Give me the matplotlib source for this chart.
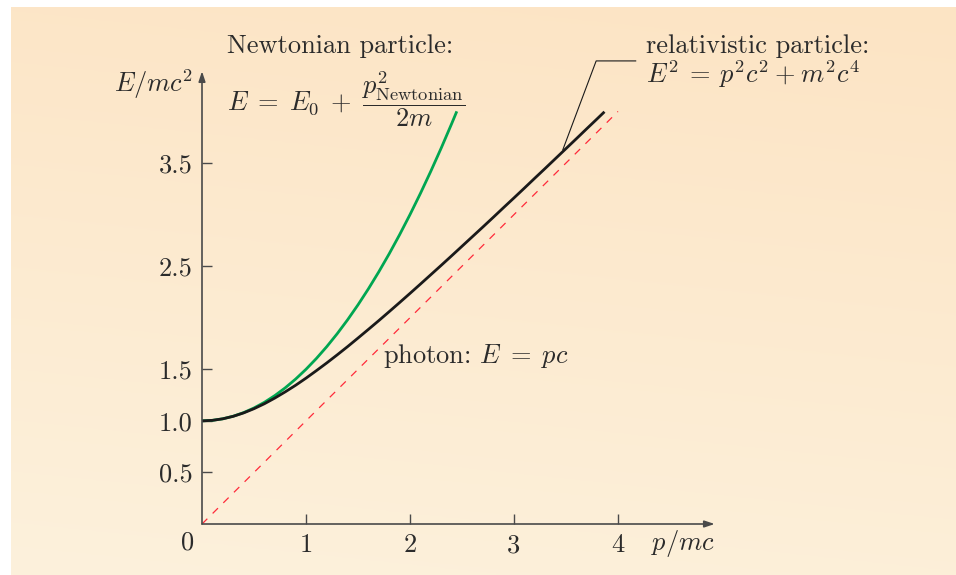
import matplotlib
matplotlib.use('Agg')
import matplotlib.pyplot as plt
import numpy as np

plt.rcParams['font.family'] = 'cmr10'
plt.rcParams['mathtext.fontset'] = 'cm'
plt.rcParams['axes.formatter.use_mathtext'] = True

# momentum p/mc and energy E/mc^2
p_rel = [0.0, 0.1, 0.2, 0.3, 0.4, 0.5, 0.6, 0.7, 0.8, 0.9, 1.0,
         1.1, 1.2, 1.3, 1.4, 1.5, 1.6, 1.7, 1.8, 1.9, 2.0,
         2.1, 2.2, 2.3, 2.4, 2.5, 2.6, 2.7, 2.8, 2.9, 3.0,
         3.1, 3.2, 3.3, 3.4, 3.5, 3.6, 3.7, 3.8, 3.87]
E_rel = [1.000, 1.005, 1.020, 1.044, 1.077, 1.118, 1.166, 1.221, 1.281, 1.345, 1.414,
         1.487, 1.562, 1.640, 1.720, 1.803, 1.887, 1.972, 2.059, 2.147, 2.236,
         2.326, 2.417, 2.508, 2.600, 2.693, 2.786, 2.879, 2.973, 3.068, 3.162,
         3.257, 3.353, 3.448, 3.544, 3.640, 3.736, 3.833, 3.929, 3.997]

p_newt = [0.0, 0.1, 0.2, 0.3, 0.4, 0.5, 0.6, 0.7, 0.8, 0.9, 1.0,
          1.1, 1.2, 1.3, 1.4, 1.5, 1.6, 1.7, 1.8, 1.9, 2.0,
          2.1, 2.2, 2.3, 2.4, 2.45]
E_newt = [1.000, 1.005, 1.020, 1.045, 1.080, 1.125, 1.180, 1.245, 1.320, 1.405, 1.500,
          1.605, 1.720, 1.845, 1.980, 2.125, 2.280, 2.445, 2.620, 2.805, 3.000,
          3.205, 3.420, 3.645, 3.880, 4.001]

p_photon = [0.0, 4.0]
E_photon = [0.0, 4.0]

xticks = [1, 2, 3, 4]
yticks = [0.5, 1.0, 1.5, 2.5, 3.5]

W, H = 956, 575
fig = plt.figure(figsize=(W / 100, H / 100), dpi=100)

# gradient panel behind everything
bg = fig.add_axes([11 / W, 0, 1 - 11 / W, 568 / H], zorder=-1)
ny, nx = 200, 300
yy, xx = np.mgrid[0:1:ny * 1j, 0:1:nx * 1j]
t = 0.85 * yy + 0.15 * xx
c0 = np.array([253, 241, 220]) / 255
c1 = np.array([252, 228, 196]) / 255
img = c0 + (c1 - c0) * t[..., None]
bg.imshow(img, origin='lower', aspect='auto', extent=[0, 1, 0, 1])
bg.axis('off')

ax = fig.add_axes([202 / W, 51 / H, 520 / W, 453.8 / H])
ax.set_facecolor('none')
ax.set_xlim(0, 5.0)
ax.set_ylim(0, 4.4)
for s in ax.spines.values():
    s.set_visible(False)

axis_col = '#4a4a4a'
txt_col = '#2b2b2b'

ax.annotate('', xy=(4.93, 0), xytext=(0, 0),
            arrowprops=dict(arrowstyle='-|>,head_length=0.6,head_width=0.2',
                            color=axis_col, lw=1.2, shrinkA=0, shrinkB=0))
ax.annotate('', xy=(0, 4.39), xytext=(0, 0),
            arrowprops=dict(arrowstyle='-|>,head_length=0.6,head_width=0.2',
                            color=axis_col, lw=1.2, shrinkA=0, shrinkB=0))

fs = 19
ax.set_xticks(xticks, [str(v) for v in xticks])
ax.set_yticks(yticks, ['%.1f' % v for v in yticks])
ax.tick_params(direction='in', length=7, width=1.0, color=axis_col,
               labelsize=fs, labelcolor=txt_col, pad=7)

ax.plot(p_photon, E_photon, color='#ff2a3a', lw=0.9, dashes=(6, 6))
ax.plot(p_newt, E_newt, color='#00a651', lw=2.0, solid_capstyle='butt')
ax.plot(p_rel, E_rel, color='#1a1a1a', lw=2.0, solid_capstyle='butt')

# leader line for the relativistic label
ax.plot([3.47, 3.79, 4.17], [3.63, 4.49, 4.49], color='#1a1a1a', lw=0.8, clip_on=False)

ax.text(-0.14, -0.18, '0', fontsize=fs, color=txt_col, ha='center', va='center')
ax.text(-0.08, 4.26, r'$E/mc^2$', fontsize=fs, color=txt_col, ha='right', va='center')
ax.text(4.32, -0.19, r'$p/mc$', fontsize=fs, color=txt_col, ha='left', va='center')

ax.text(0.24, 4.63, 'Newtonian particle:', fontsize=fs, color=txt_col,
        ha='left', va='center', clip_on=False)
ax.text(0.24, 4.12, r'$E\;=\;E_0\;+\;\dfrac{p^2_{\mathrm{Newtonian}}}{2m}$', fontsize=fs,
        color=txt_col, ha='left', va='center', clip_on=False)
ax.text(4.27, 4.63, 'relativistic particle:', fontsize=fs, color=txt_col,
        ha='left', va='center', clip_on=False)
ax.text(4.27, 4.36, r'$E^2\:=\:p^2c^2\:+\:m^2c^4$', fontsize=fs, color=txt_col,
        ha='left', va='center', clip_on=False)
ax.text(1.74, 1.63, r'photon: $E\;=\;pc$', fontsize=fs, color=txt_col,
        ha='left', va='center')

fig.savefig('out.png', dpi=100)
